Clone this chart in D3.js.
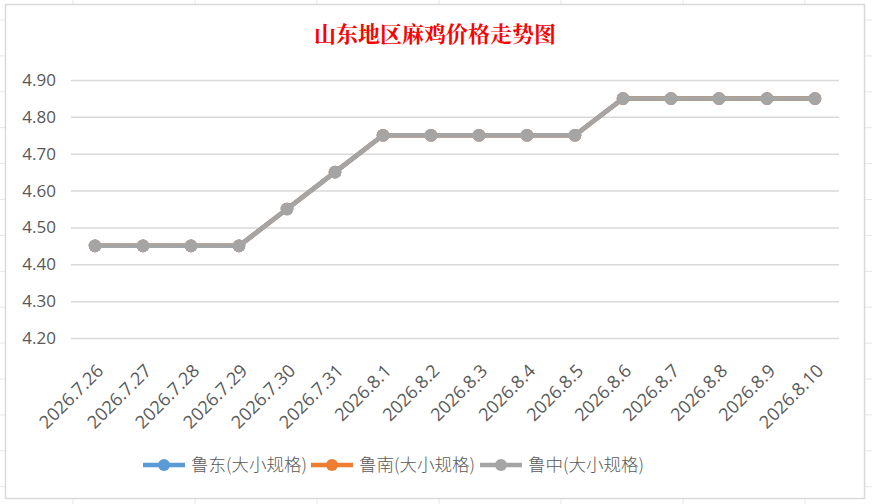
<!DOCTYPE html>
<html>
<head>
<meta charset="utf-8">
<script src="https://cdn.jsdelivr.net/npm/d3@7"></script>
<style>
  body { margin: 0; background: #fff; }
  text { font-family: "Open Sans", "Noto Sans CJK SC", sans-serif; }
</style>
</head>
<body>
<div class="chart"></div>
<script>
// chart data
let dates = ["2026.7.26", "2026.7.27", "2026.7.28", "2026.7.29", "2026.7.30", "2026.7.31",
  "2026.8.1", "2026.8.2", "2026.8.3", "2026.8.4", "2026.8.5", "2026.8.6",
  "2026.8.7", "2026.8.8", "2026.8.9", "2026.8.10"];
let luDong = [4.45, 4.45, 4.45, 4.45, 4.55, 4.65, 4.75, 4.75, 4.75, 4.75, 4.75, 4.85, 4.85, 4.85, 4.85, 4.85];
let luNan = [4.45, 4.45, 4.45, 4.45, 4.55, 4.65, 4.75, 4.75, 4.75, 4.75, 4.75, 4.85, 4.85, 4.85, 4.85, 4.85];
let luZhong = [4.45, 4.45, 4.45, 4.45, 4.55, 4.65, 4.75, 4.75, 4.75, 4.75, 4.75, 4.85, 4.85, 4.85, 4.85, 4.85];
let seriesNames = ["鲁东(大小规格)", "鲁南(大小规格)", "鲁中(大小规格)"];
let yTicks = [4.2, 4.3, 4.4, 4.5, 4.6, 4.7, 4.8, 4.9];

let series = [
  {name: seriesNames[0], values: luDong, color: "#5B9BD5"},
  {name: seriesNames[1], values: luNan, color: "#ED7D31"},
  {name: seriesNames[2], values: luZhong, color: "#A5A5A5"}
];

let svgWidth = 872;
let svgHeight = 504;
let margin = {top: 80, right: 33, bottom: 166, left: 71};
let width = svgWidth - margin.left - margin.right;
let height = svgHeight - margin.top - margin.bottom;

let svg = d3.select(".chart").append("svg")
  .attr("width", svgWidth).attr("height", svgHeight);

// faint spreadsheet cells behind the chart object
let cellGroup = svg.append("g").attr("stroke", "#e6e6e6").attr("stroke-width", 1);
d3.range(0, 8).forEach(function(i) {
  let x = 73 + i * 122;
  cellGroup.append("line").attr("x1", x).attr("x2", x).attr("y1", 0).attr("y2", svgHeight);
});
d3.range(0, 14).forEach(function(i) {
  let y = 20 + i * 35.9;
  cellGroup.append("line").attr("x1", 0).attr("x2", svgWidth).attr("y1", y).attr("y2", y);
});

// chart area with border
svg.append("rect")
  .attr("x", 5.5).attr("y", 4.5)
  .attr("width", 859).attr("height", 494)
  .attr("fill", "#fff")
  .attr("stroke", "#d9d9d9")
  .attr("stroke-width", 1.5);

let chartGroup = svg.append("g")
  .attr("transform", `translate(${margin.left}, ${margin.top})`);

let xScale = d3.scalePoint().domain(dates).range([0, width]).padding(0.5);
let yScale = d3.scaleLinear().domain([4.2, 4.9]).range([height, 0]);

// y axis with gridlines
let leftAxis = d3.axisLeft(yScale).tickValues(yTicks).tickFormat(d3.format(".2f"))
  .tickSize(-width).tickPadding(15);
let yAxisGroup = chartGroup.append("g").attr("class", "y-axis").call(leftAxis);
yAxisGroup.select(".domain").remove();
yAxisGroup.selectAll("line").attr("stroke", "#d9d9d9").attr("stroke-width", 1.5);
yAxisGroup.selectAll("text")
  .attr("fill", "#595959")
  .style("font-size", "17px");

// x axis labels rotated
let bottomAxis = d3.axisBottom(xScale).tickSize(0);
let xAxisGroup = chartGroup.append("g").attr("class", "x-axis")
  .attr("transform", `translate(0, ${height})`)
  .call(bottomAxis);
xAxisGroup.select(".domain").remove();
xAxisGroup.selectAll("text")
  .attr("fill", "#595959")
  .style("font-size", "18px")
  .attr("text-anchor", "end")
  .attr("dy", "0")
  .attr("y", 0)
  .attr("transform", "translate(9, 34) rotate(-45)");

// lines and markers
let line = d3.line()
  .x((d, i) => xScale(dates[i]))
  .y(d => yScale(d));

series.forEach(function(s) {
  chartGroup.append("path")
    .datum(s.values)
    .attr("fill", "none")
    .attr("stroke", s.color)
    .attr("stroke-width", 4.5)
    .attr("stroke-linejoin", "round")
    .attr("d", line);

  chartGroup.selectAll(null)
    .data(s.values)
    .enter()
    .append("circle")
    .attr("cx", (d, i) => xScale(dates[i]))
    .attr("cy", d => yScale(d))
    .attr("r", 6.3)
    .attr("fill", s.color);
});

// chart title
svg.append("text")
  .attr("x", 435)
  .attr("y", 42)
  .attr("text-anchor", "middle")
  .attr("fill", "#ff0000")
  .style("font-family", "'Noto Serif CJK SC', 'Noto Sans CJK SC', serif")
  .style("font-weight", "bold")
  .style("font-size", "22px")
  .text("山东地区麻鸡价格走势图");

// legend
let legendX = [143, 311, 480];
let legend = svg.append("g").attr("class", "legend");
series.forEach(function(s, i) {
  let g = legend.append("g").attr("transform", `translate(${legendX[i]}, 465)`);
  g.append("line").attr("x1", 0).attr("x2", 42).attr("y1", 0).attr("y2", 0)
    .attr("stroke", s.color).attr("stroke-width", 4.5);
  g.append("circle").attr("cx", 21).attr("cy", 0).attr("r", 6).attr("fill", s.color);
  g.append("text")
    .attr("x", 48).attr("y", 0).attr("dy", "0.35em")
    .attr("fill", "#595959")
    .style("font-size", "17.5px")
    .style("font-family", "'Noto Sans CJK SC', sans-serif")
    .style("font-weight", 300)
    .text(s.name);
});
</script>
</body>
</html>
